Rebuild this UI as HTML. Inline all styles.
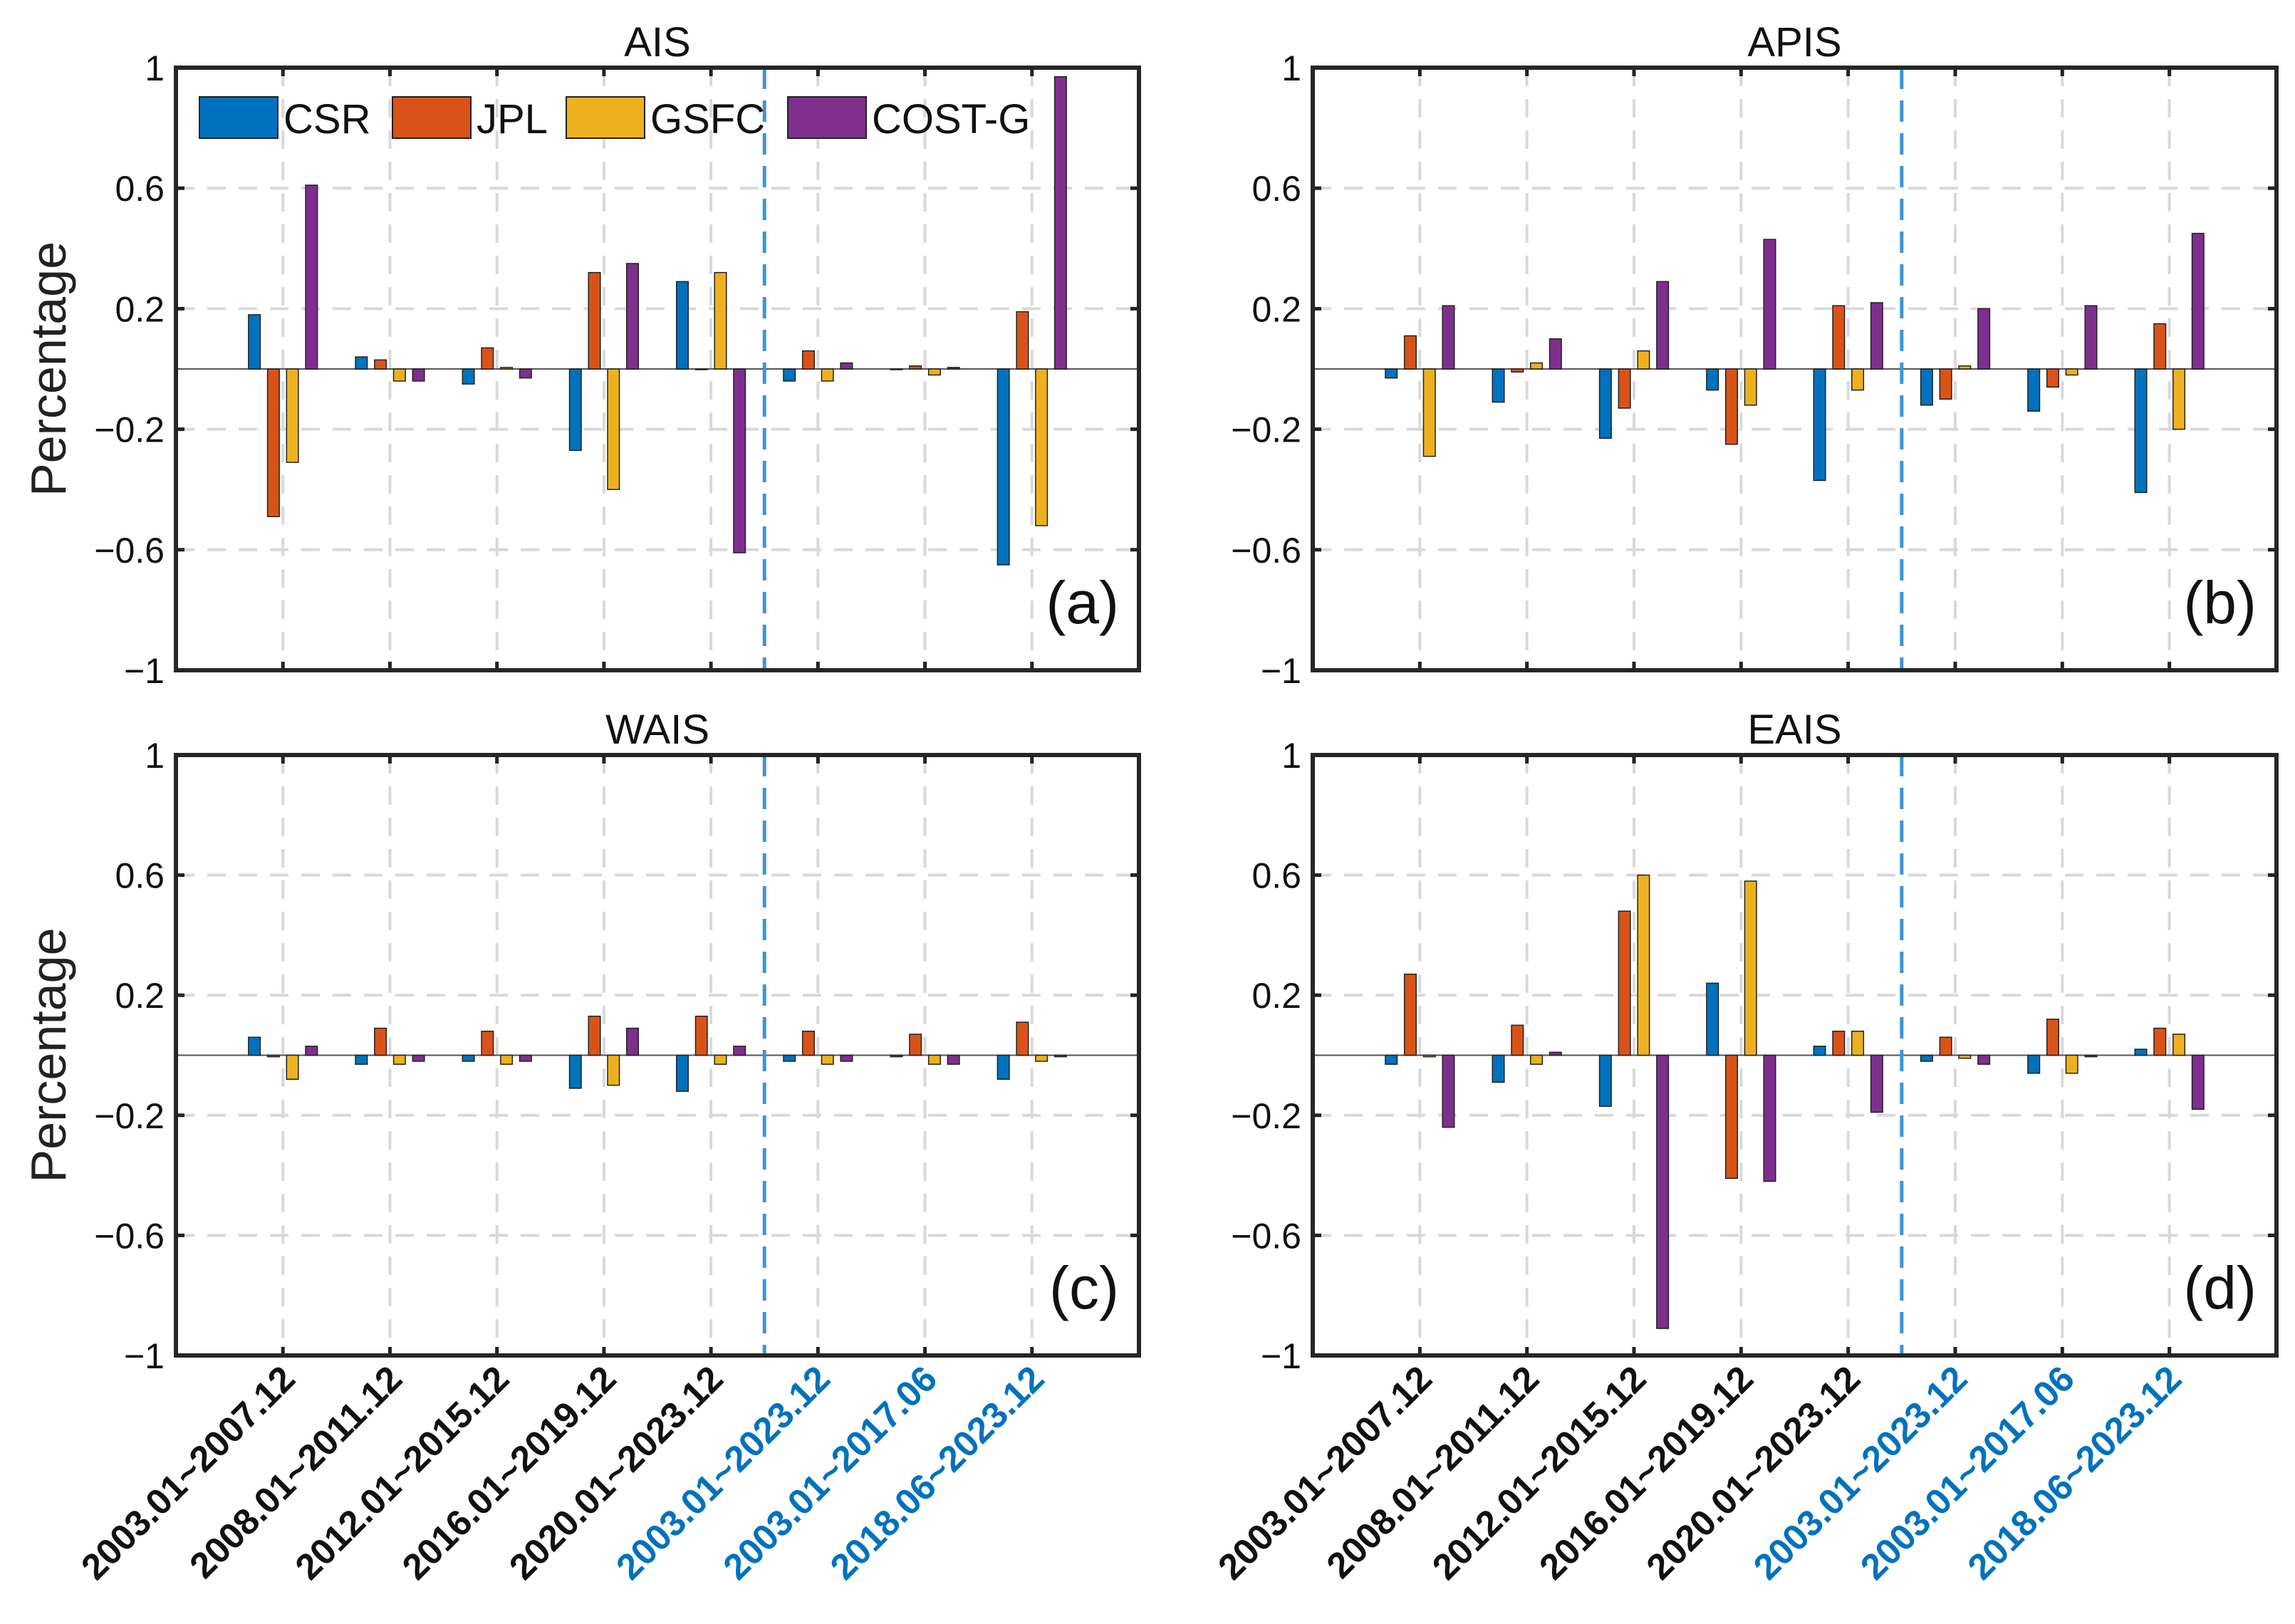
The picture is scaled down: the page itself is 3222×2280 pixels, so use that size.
<!DOCTYPE html>
<html><head><meta charset="utf-8"><style>
html,body{margin:0;padding:0;background:#fff}
svg{display:block}
text{font-family:"Liberation Sans",Arial,sans-serif}
</style></head><body>
<svg id="fig" width="3222" height="2280" viewBox="0 0 3222 2280" xmlns="http://www.w3.org/2000/svg"></svg>
<script>
const categories=["2003.01~2007.12","2008.01~2011.12","2012.01~2015.12","2016.01~2019.12","2020.01~2023.12","2003.01~2023.12","2003.01~2017.06","2018.06~2023.12"];
const seriesNames=["CSR","JPL","GSFC","COST-G"];
const yTicks=[1,0.6,0.2,-0.2,-0.6,-1];
const yTickLabels=["1","0.6","0.2","\u22120.2","\u22120.6","\u22121"];
const aisCSR=[0.18,0.04,-0.05,-0.27,0.29,-0.04,0.0,-0.65];
const aisJPL=[-0.49,0.03,0.07,0.32,0.0,0.06,0.01,0.19];
const aisGSFC=[-0.31,-0.04,0.005,-0.40,0.32,-0.04,-0.02,-0.52];
const aisCOST=[0.61,-0.04,-0.03,0.35,-0.61,0.02,0.005,0.97];
const apisCSR=[-0.03,-0.11,-0.23,-0.07,-0.37,-0.12,-0.14,-0.41];
const apisJPL=[0.11,-0.01,-0.13,-0.25,0.21,-0.10,-0.06,0.15];
const apisGSFC=[-0.29,0.02,0.06,-0.12,-0.07,0.01,-0.02,-0.20];
const apisCOST=[0.21,0.10,0.29,0.43,0.22,0.20,0.21,0.45];
const waisCSR=[0.06,-0.03,-0.02,-0.11,-0.12,-0.02,-0.005,-0.08];
const waisJPL=[-0.005,0.09,0.08,0.13,0.13,0.08,0.07,0.11];
const waisGSFC=[-0.08,-0.03,-0.03,-0.10,-0.03,-0.03,-0.03,-0.02];
const waisCOST=[0.03,-0.02,-0.02,0.09,0.03,-0.02,-0.03,-0.005];
const eaisCSR=[-0.03,-0.09,-0.17,0.24,0.03,-0.02,-0.06,0.02];
const eaisJPL=[0.27,0.10,0.48,-0.41,0.08,0.06,0.12,0.09];
const eaisGSFC=[-0.005,-0.03,0.60,0.58,0.08,-0.01,-0.06,0.07];
const eaisCOST=[-0.24,0.01,-0.91,-0.42,-0.19,-0.03,-0.005,-0.18];

const colors=["#0072BD","#D95319","#EDB120","#7E2F8E"];
const NS="http://www.w3.org/2000/svg";
const svg=document.getElementById('fig');
function mk(tag,attrs,parent){const e=document.createElementNS(NS,tag);for(const k in attrs)e.setAttribute(k,attrs[k]);(parent||svg).appendChild(e);return e;}

const panels=[
 {title:"AIS",tag:"(a)",x0:247,x1:1599,y0:95,y1:941,data:[aisCSR,aisJPL,aisGSFC,aisCOST],ylab:true,xlab:false,legend:true},
 {title:"APIS",tag:"(b)",x0:1843,x1:3196,y0:95,y1:941,data:[apisCSR,apisJPL,apisGSFC,apisCOST],ylab:false,xlab:false,legend:false},
 {title:"WAIS",tag:"(c)",x0:247,x1:1599,y0:1060,y1:1903,data:[waisCSR,waisJPL,waisGSFC,waisCOST],ylab:true,xlab:true,legend:false},
 {title:"EAIS",tag:"(d)",x0:1843,x1:3196,y0:1060,y1:1903,data:[eaisCSR,eaisJPL,eaisGSFC,eaisCOST],ylab:false,xlab:true,legend:false}
];

panels.forEach(p=>{
 const g=mk('g',{});
 
 
 const xs=v=>p.x0+(p.x1-p.x0)*v/9;
 const ys=v=>p.y0+(p.y1-p.y0)*(1-v)/2;
 yTicks.forEach((t,i)=>{
  if(Math.abs(t)<1){const l=mk('line',{x1:p.x0,x2:p.x1,y1:ys(t),y2:ys(t),stroke:"#d9d9d9","stroke-width":4,"stroke-dasharray":"26,18"},g);
   }
  mk('line',{x1:p.x0,x2:p.x0+12,y1:ys(t),y2:ys(t),stroke:"#222","stroke-width":5},g);
  mk('line',{x1:p.x1-12,x2:p.x1,y1:ys(t),y2:ys(t),stroke:"#222","stroke-width":5},g);
  const tx=mk('text',{x:p.x0-16,y:ys(t)+18,"text-anchor":"end","font-size":50,fill:"#111"},g);
  tx.textContent=yTickLabels[i];
  
 });
 categories.forEach((c,i)=>{
  const x=xs(i+1);
  const l=mk('line',{x1:x,x2:x,y1:p.y0,y2:p.y1,stroke:"#d9d9d9","stroke-width":4,"stroke-dasharray":"26,18"},g);
  
  mk('line',{x1:x,x2:x,y1:p.y1-12,y2:p.y1,stroke:"#222","stroke-width":5},g);
  mk('line',{x1:x,x2:x,y1:p.y0,y2:p.y0+12,stroke:"#222","stroke-width":5},g);
  if(p.xlab){
   const tx=mk('text',{x:0,y:0,"text-anchor":"end","font-size":51,"font-weight":"bold",fill:i>=5?"#0072BD":"#111",
     transform:`translate(${x+20},${p.y1+36}) rotate(-45)`},g);
   tx.textContent=c;
   
  }
 });
 const z=mk('line',{x1:p.x0,x2:p.x1,y1:ys(0),y2:ys(0),stroke:"#555","stroke-width":2},g);
 
 const dv=mk('line',{x1:xs(5.5),x2:xs(5.5),y1:p.y0,y2:p.y1,stroke:"#3d95d6","stroke-width":5,"stroke-dasharray":"30,16"},g);
 
 const step=0.178, bw=0.11;
 p.data.forEach((arr,s)=>{
  arr.forEach((v,i)=>{
   const cx=i+1+(s-1.5)*step;
   const xa=xs(cx-bw/2), xb=xs(cx+bw/2);
   const ya=ys(Math.max(v,0)), yb=ys(Math.min(v,0));
   const r=mk('rect',{x:xa,y:ya,width:xb-xa,height:Math.max(yb-ya,1),fill:colors[s],stroke:"#222","stroke-width":1.5},g);
   
   
  });
 });
 const bx=mk('rect',{x:p.x0,y:p.y0,width:p.x1-p.x0,height:p.y1-p.y0,fill:"none",stroke:"#262626","stroke-width":6},g);
 
 const tt=mk('text',{x:(p.x0+p.x1)/2,y:p.y0-16,"text-anchor":"middle","font-size":58,fill:"#111"},g);
 tt.textContent=p.title;
 
 const pl=mk('text',{x:p.x1-28,y:p.y1-66,"text-anchor":"end","font-size":84,fill:"#111"},g);
 pl.textContent=p.tag;
 
 if(p.ylab){
  const yl=mk('text',{x:0,y:0,"text-anchor":"middle","font-size":70,fill:"#222",transform:`translate(92,${(p.y0+p.y1)/2}) rotate(-90)`},g);
  yl.textContent="Percentage";
  
 }
 if(p.legend){
  const lg=mk('g',{},g);
  
  const lx=[280,551,795,1106];
  seriesNames.forEach((n,s)=>{
   const e=mk('g',{},lg);
   
   mk('rect',{x:lx[s],y:136,width:110,height:58,fill:colors[s],stroke:"#222","stroke-width":2},e);
   const t=mk('text',{x:lx[s]+118,y:187,"font-size":58,fill:"#111"},e);
   t.textContent=n;
  });
 }
});
</script>
</body></html>
